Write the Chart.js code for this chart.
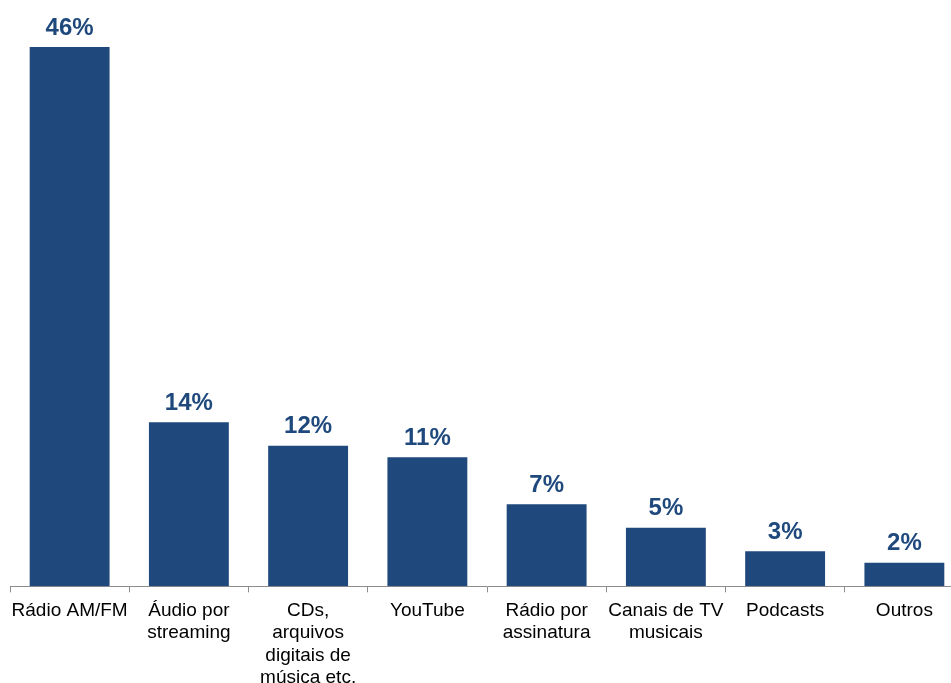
<!DOCTYPE html>
<html>
<head>
<meta charset="utf-8">
<script src="https://cdn.jsdelivr.net/npm/chart.js@4/dist/chart.umd.min.js"></script>
<style>
  html, body { margin: 0; padding: 0; background: #fff; overflow: hidden; }
  #wrap { width: 964px; height: 696px; }
</style>
</head>
<body>
<div id="wrap"><canvas id="mediaChart" width="964" height="696"></canvas></div>
<script>
// categories and shares (%)
const categories = [
    'Rádio AM/FM',
    ['Áudio por', 'streaming'],
    ['CDs,', 'arquivos', 'digitais de', 'música etc.'],
    'YouTube',
    ['Rádio por', 'assinatura'],
    ['Canais de TV', 'musicais'],
    'Podcasts',
    'Outros'
];
const shares = [46, 14, 12, 11, 7, 5, 3, 2];

const barBlue = '#1f497d';

// value labels above each bar
const valueLabels = {
    id: 'valueLabels',
    afterDatasetsDraw(chart) {
        const ctx = chart.ctx;
        const meta = chart.getDatasetMeta(0);
        ctx.save();
        ctx.fillStyle = barBlue;
        ctx.font = 'bold 24px "Liberation Sans", Arial, sans-serif';
        ctx.textAlign = 'center';
        ctx.textBaseline = 'bottom';
        meta.data.forEach((bar, i) => {
            ctx.fillText(shares[i] + '%', bar.x, bar.y - 7);
        });
        ctx.restore();
    }
};

const ctx = document.getElementById('mediaChart').getContext('2d');
new Chart(ctx, {
    type: 'bar',
    data: {
        labels: categories,
        datasets: [{ data: shares, backgroundColor: barBlue, barPercentage: 0.67, categoryPercentage: 1 }]
    },
    options: {
        responsive: false,
        animation: false,
        layout: { padding: { top: 47, left: 10, right: 0, bottom: 0 } },
        plugins: { legend: { display: false }, tooltip: { enabled: false } },
        scales: {
            x: {
                grid: { offset: true, drawOnChartArea: false, drawTicks: true, tickLength: 6, color: '#8c8c8c' },
                border: { color: '#8c8c8c', width: 1 },
                ticks: {
                    color: '#000',
                    maxRotation: 0,
                    autoSkip: false,
                    padding: 7,
                    font: { family: '"Liberation Sans", Arial, sans-serif', size: 19, lineHeight: 1.18 }
                }
            },
            y: { display: false, min: 0, max: 46 }
        }
    },
    plugins: [valueLabels]
});
</script>
</body>
</html>
